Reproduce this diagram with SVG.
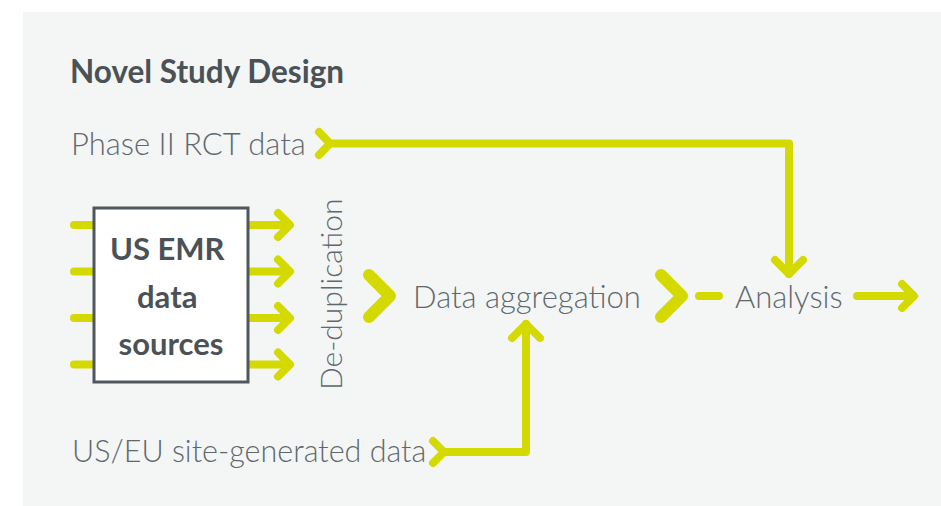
<svg xmlns="http://www.w3.org/2000/svg" width="941" height="506" viewBox="0 0 941 506">
  <defs>
    <style>
      .flow { fill: none; stroke: #d4d900; stroke-width: 8; stroke-linecap: round; stroke-linejoin: round; }
      .chev { fill: none; stroke: #d4d900; stroke-width: 12; stroke-linecap: round; stroke-linejoin: round; }
      .light { font-family: Lato, "Liberation Sans", sans-serif; font-weight: 300; font-size: 31px; fill: #60686d; }
      .bold { font-family: Lato, "Liberation Sans", sans-serif; font-weight: 700; fill: #4a5257; }
    </style>
  </defs>

  <rect x="0" y="0" width="941" height="506" fill="#ffffff"/>
  <rect x="23" y="12" width="918" height="494" fill="#f4f6f6"/>

  <text class="bold" x="70" y="83" style="font-size:31.5px">Novel Study Design</text>

  <!-- connectors -->
  <g id="connectors">
    <!-- Phase II RCT data to Analysis -->
    <polyline class="flow" points="319,132 330,143.5 319,155"/>
    <polyline class="flow" points="330,143.5 789,143.5 789,274"/>
    <polyline class="flow" points="775,260 789,274 803,260"/>

    <!-- site-generated data to aggregation -->
    <polyline class="flow" points="433,441 444,452 433,463"/>
    <polyline class="flow" points="444,452 526,452 526,324"/>
    <polyline class="flow" points="512,338 526,324 540,338"/>

    <!-- EMR inputs -->
    <line class="flow" x1="74" y1="225" x2="95" y2="225"/>
    <line class="flow" x1="74" y1="271.5" x2="95" y2="271.5"/>
    <line class="flow" x1="74" y1="318" x2="95" y2="318"/>
    <line class="flow" x1="74" y1="364.5" x2="95" y2="364.5"/>

    <!-- EMR outputs -->
    <line class="flow" x1="248" y1="225" x2="289" y2="225"/>
    <polyline class="flow" points="278,213 290,225 278,237"/>
    <line class="flow" x1="248" y1="271.5" x2="289" y2="271.5"/>
    <polyline class="flow" points="278,259.5 290,271.5 278,283.5"/>
    <line class="flow" x1="248" y1="318" x2="289" y2="318"/>
    <polyline class="flow" points="278,306 290,318 278,330"/>
    <line class="flow" x1="248" y1="364.5" x2="289" y2="364.5"/>
    <polyline class="flow" points="278,352.5 290,364.5 278,376.5"/>

    <!-- main row -->
    <polyline class="chev" points="369,275 390,296 369,317"/>
    <polyline class="chev" points="661,275 682,296 661,317"/>
    <line class="flow" x1="699" y1="296" x2="719" y2="296"/>
    <line class="flow" x1="857" y1="296" x2="913" y2="296"/>
    <polyline class="flow" points="902,284 914,296 902,308"/>
  </g>

  <g id="emr-sources">
    <rect x="94" y="208" width="154" height="174" fill="#ffffff" stroke="#50575c" stroke-width="3"/>
    <text class="bold" style="font-size:31px" text-anchor="middle">
      <tspan x="171" y="260">US EMR</tspan>
      <tspan x="171" y="308">data</tspan>
      <tspan x="171" y="355">sources</tspan>
    </text>
  </g>

  <g id="phase2">
    <text class="light" x="71" y="155">Phase II RCT data</text>
  </g>

  <g id="site-data">
    <text class="light" x="72" y="462" style="font-size:30.5px">US/EU site-generated data</text>
  </g>

  <g id="dedup">
    <text class="light" transform="translate(342,390) rotate(-90)" style="font-size:30px">De-duplication</text>
  </g>

  <g id="aggregation">
    <text class="light" x="413" y="308">Data aggregation</text>
  </g>

  <g id="analysis">
    <text class="light" x="735" y="308">Analysis</text>
  </g>
</svg>
